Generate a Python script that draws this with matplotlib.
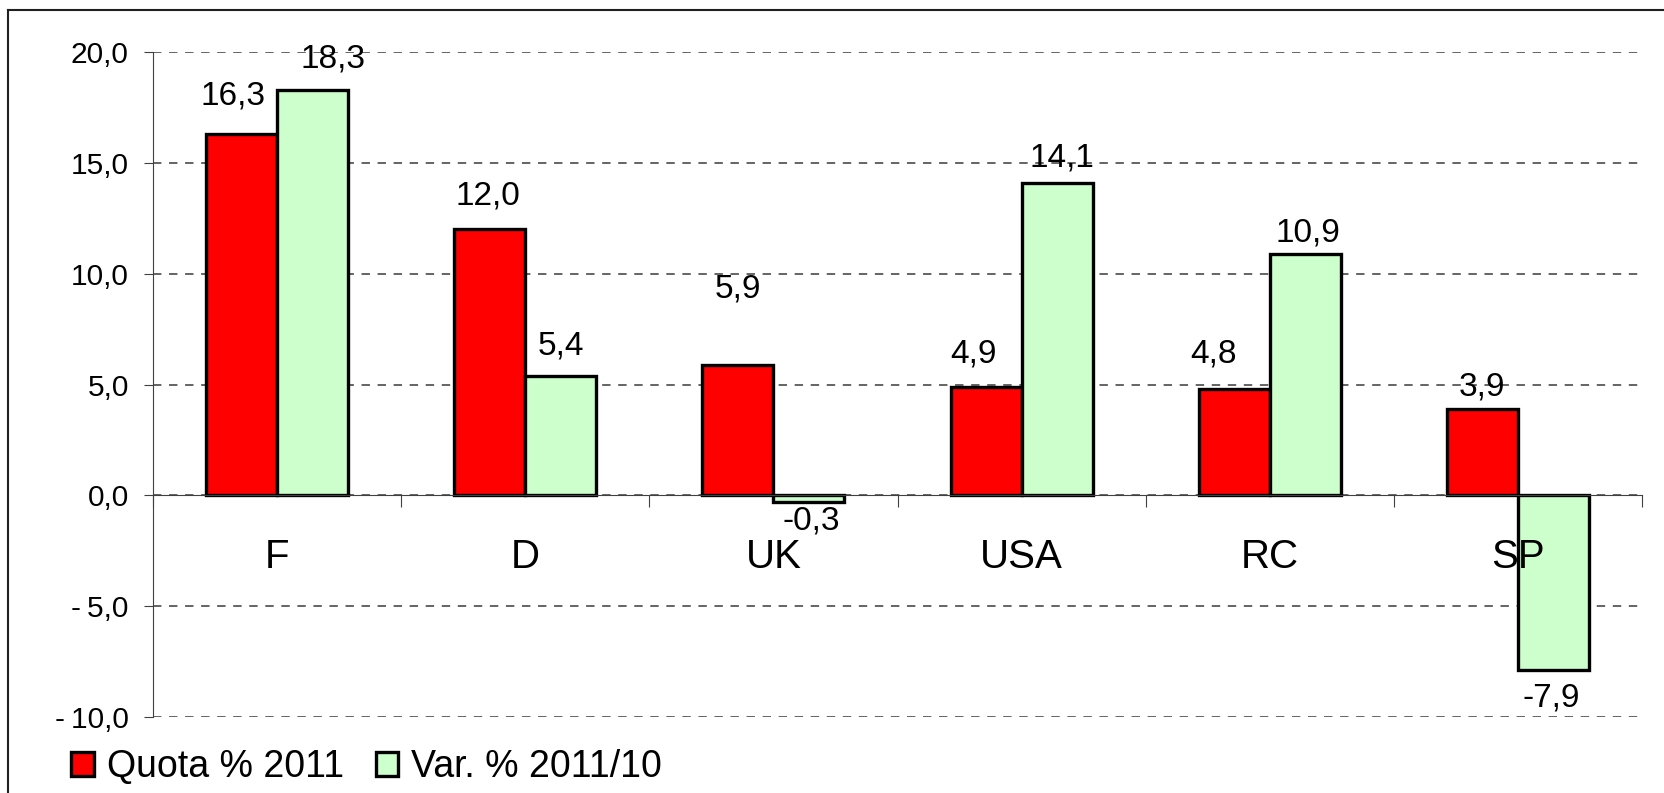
import matplotlib
matplotlib.use("Agg")
import matplotlib.pyplot as plt
from matplotlib.lines import Line2D
import numpy as np

plt.rcParams['font.family'] = ['Liberation Sans', 'DejaVu Sans']

# data
countries = ["F", "D", "UK", "USA", "RC", "SP"]
quota_2011 = [16.3, 12.0, 5.9, 4.9, 4.8, 3.9]
var_2011_10 = [18.3, 5.4, -0.3, 14.1, 10.9, -7.9]
series_names = ["Quota % 2011", "Var. % 2011/10"]
y_ticks = [-10, -5, 0, 5, 10, 15, 20]

# label nudges in pixels (dx, dy of baseline from bar end), Excel puts them a bit everywhere
red_offsets = [(-9, 30), (-2, 25), (0, 67), (-13, 24), (-21, 26), (0, 13)]
green_offsets = [(20, 22), (0, 21), (2, -28), (5, 16), (3, 12), (-2, -36)]


def fmt(v):
    s = "%.1f" % abs(v)
    s = s.replace(".", ",")
    if v < 0:
        return "-" + s
    return s


def fmt_tick(v):
    s = "%.1f" % abs(v)
    s = s.replace(".", ",")
    if v < 0:
        return "-\u2009" + s
    return s


fig = plt.figure(figsize=(16.64, 7.93), dpi=100)
ax = fig.add_axes([153 / 1664, 1 - 717 / 793, (1642 - 153) / 1664, (717 - 52) / 793])

x = np.arange(len(countries))
w = 0.286
red = ax.bar(x - w / 2, quota_2011, w, color="#FF0000", edgecolor="black",
             linewidth=2.4, label=series_names[0], zorder=3)
green = ax.bar(x + w / 2, var_2011_10, w, color="#CCFFCC", edgecolor="black",
               linewidth=2.4, label=series_names[1], zorder=3)

ax.set_xlim(-0.5, len(countries) - 0.5)
ax.set_ylim(-10, 20)
ax.set_yticks(y_ticks)
ax.set_yticklabels([fmt_tick(v) for v in y_ticks], fontsize=21.5)
ax.tick_params(axis="y", direction="out", length=6.5, width=0.8, color="#404040", pad=11)

# zero line with category separators
ax.spines["bottom"].set_position(("data", 0))
ax.spines["bottom"].set_color("#404040")
ax.spines["bottom"].set_linewidth(0.8)
ax.spines["bottom"].set_zorder(4)
ax.spines["left"].set_color("#404040")
ax.spines["left"].set_linewidth(0.8)
ax.spines["top"].set_visible(False)
ax.spines["right"].set_visible(False)
ax.set_xticks(np.arange(len(countries) + 1) - 0.5)
ax.set_xticklabels([])
ax.tick_params(axis="x", direction="out", length=8.6, width=0.8, color="#404040")

ax.yaxis.grid(True, color="#3a3a3a", linewidth=1.1, linestyle=(0, (5.5, 5)))
ax.set_axisbelow(True)

for i, name in enumerate(countries):
    ax.annotate(name, (i, 0), xytext=(0, -73), textcoords="offset pixels",
                ha="center", va="baseline", fontsize=29, zorder=5)

for i in range(len(countries)):
    ax.annotate(fmt(quota_2011[i]), (x[i] - w / 2, quota_2011[i]),
                xytext=red_offsets[i], textcoords="offset pixels",
                ha="center", va="baseline", fontsize=24, zorder=5)
    ax.annotate(fmt(var_2011_10[i]), (x[i] + w / 2, var_2011_10[i]),
                xytext=green_offsets[i], textcoords="offset pixels",
                ha="center", va="baseline", fontsize=24, zorder=5)

leg = fig.legend(handles=[red, green], loc="lower left",
                 bbox_to_anchor=(71 / 1664, 8 / 793), ncol=2, frameon=False,
                 fontsize=27, handlelength=0.6, handleheight=0.6,
                 handletextpad=0.35, columnspacing=0.85, borderpad=0,
                 borderaxespad=0)

# chart border (only top/left visible in the crop)
fig.add_artist(Line2D([8 / 1664, 8 / 1664], [0, 1 - 10 / 793], color="#202020", linewidth=1.5))
fig.add_artist(Line2D([8 / 1664, 1], [1 - 10 / 793, 1 - 10 / 793], color="#202020", linewidth=1.5))

fig.savefig("out.png", dpi=100)
